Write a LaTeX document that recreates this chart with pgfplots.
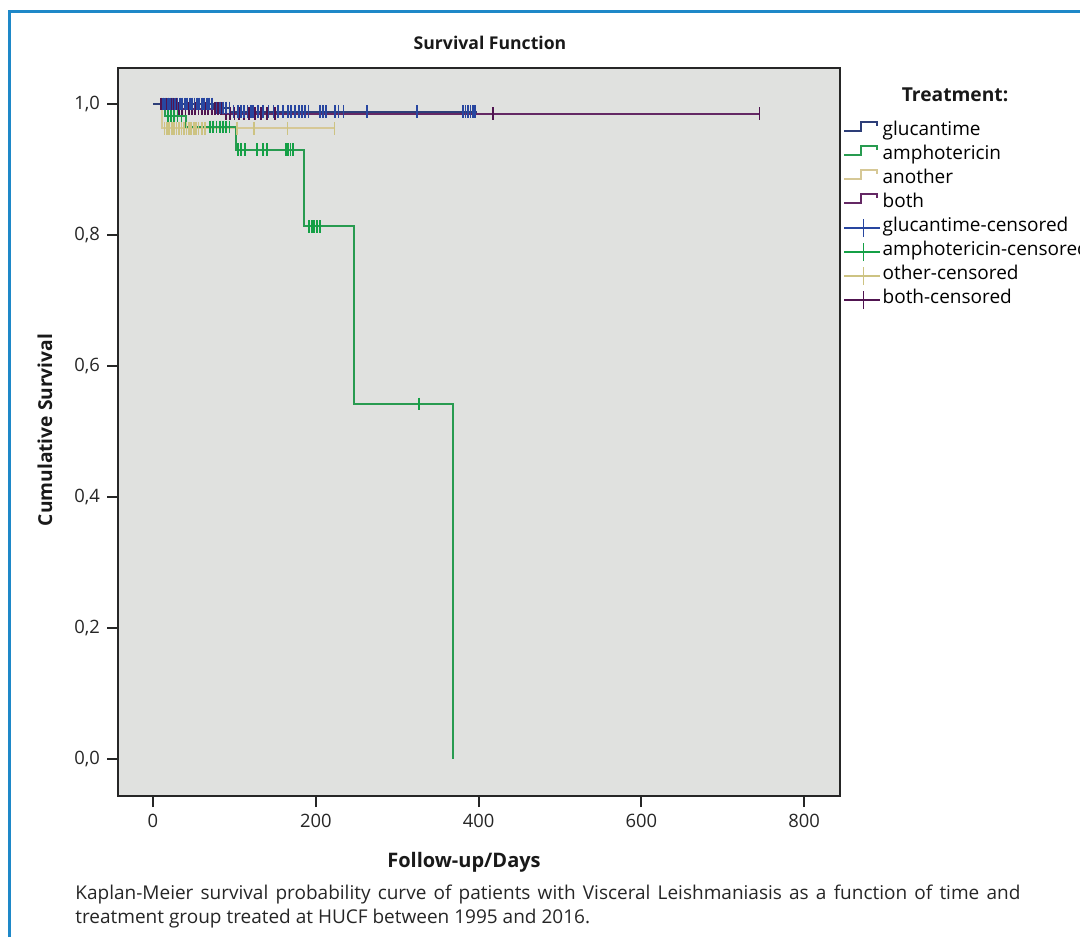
\documentclass[border=0pt]{standalone}
\usepackage{fontspec}
\setmainfont{Open Sans}
\usepackage{pgfplots}
\pgfplotsset{compat=1.18}
\definecolor{bggray}{RGB}{224,225,223}
\definecolor{bordercol}{RGB}{30,136,200}
\definecolor{gluc}{RGB}{45,62,120}
\definecolor{glucm}{RGB}{40,70,160}
\definecolor{ampho}{RGB}{40,155,80}
\definecolor{amphom}{RGB}{20,160,70}
\definecolor{other}{RGB}{214,200,150}
\definecolor{otherm}{RGB}{205,195,130}
\definecolor{both}{RGB}{100,40,100}
\definecolor{bothm}{RGB}{80,20,80}
\begin{document}
\begin{tikzpicture}
\useasboundingbox (0,0) rectangle (540pt,468.5pt);
\fill[white] (0,0) rectangle (540pt,468.5pt);
\draw[line width=1.5pt, bordercol] (4.5pt,0pt) -- (4.5pt,462.5pt) -- (540pt,462.5pt);
\begin{axis}[
  at={(59pt,70.5pt)}, anchor=south west,
  scale only axis, width=361pt, height=364pt,
  xmin=-43, xmax=844, ymin=-0.0565, ymax=1.055,
  xtick={0,200,400,600,800},
  ytick={0,0.2,0.4,0.6,0.8,1},
  yticklabels={{0,0},{0,2},{0,4},{0,6},{0,8},{1,0}},
  tick pos=left, tick align=outside,
  major tick length=5.5pt,
  tick style={line width=1pt, black!85},
  axis line style={line width=1pt, black!85},
  axis background/.style={fill=bggray},
  every tick label/.append style={font=\fontsize{9.2}{10}\selectfont, text=black!85},
  /pgf/number format/assume math mode=true,
  legend style={at={(axis description cs:1.0042,0.929)}, anchor=north west,
    draw=none, fill=none, inner sep=0pt,
    font=\fontsize{9.5}{10}\selectfont,
    nodes={inner ysep=0pt, inner xsep=0.75pt, text height=7.5pt, text depth=4.5pt},
    row sep=0pt},
  legend cell align=left,
  steplegend/.style={legend image code/.code={
    \draw[##1] (0pt,0.5pt) -- (8.5pt,0.5pt) -- (8.5pt,5pt) -- (16.5pt,5pt) -- (16.5pt,3pt);}},
  censlegend/.style={legend image code/.code={
    \draw[##1] (0pt,0pt) -- (18pt,0pt); \draw[##1] (9.5pt,-4.5pt) -- (9.5pt,4.5pt);}},
]
% step lines
\addplot[other, line width=1pt, forget plot] coordinates {(5,1)(11,1)(11,0.963)(224,0.963)};
\addplot[ampho, line width=1pt, forget plot] coordinates {(8,1)(15,1)(15,0.982)(40,0.982)(40,0.965)(102,0.965)(102,0.930)(186,0.930)(186,0.813)(247,0.813)(247,0.542)(369,0.542)(369,0)};
\addplot[both, line width=1pt, forget plot] coordinates {(8,1)(30,1)(30,0.993)(85,0.993)(85,0.985)(745,0.985)};
\addplot[gluc, line width=1pt, forget plot] coordinates {(0,1)(75,1)(75,0.994)(95,0.994)(95,0.988)(398,0.988)};
% censored marks
\addplot[only marks, mark=|, mark size=3.2pt, otherm, line width=0.8pt, forget plot] coordinates {
(14,0.963)(17,0.963)(20,0.963)(23,0.963)(26,0.963)(29,0.963)(32,0.963)(35,0.963)(38,0.963)(41,0.963)(44,0.963)(47,0.963)(50,0.963)(53,0.963)(56,0.963)(60,0.963)(64,0.963)(103,0.963)(124,0.963)(165,0.963)(223,0.963)};
\addplot[only marks, mark=|, mark size=3.2pt, amphom, line width=0.9pt, forget plot] coordinates {
(18,0.982)(22,0.982)(26,0.982)(30,0.982)(35,0.982)
(70,0.965)(74,0.965)(78,0.965)(82,0.965)(86,0.965)(90,0.965)(94,0.965)
(104,0.93)(108,0.93)(113,0.93)(128,0.93)(135,0.93)(140,0.93)(163,0.93)(166,0.93)(169,0.93)(172,0.93)
(192,0.813)(195,0.813)(198,0.813)(201,0.813)(205,0.813)
(327,0.542)};
\addplot[only marks, mark=|, mark size=3.2pt, bothm, line width=0.9pt, forget plot] coordinates {
(10,1)(13,1)(16,1)(19,1)(22,1)(25,1)(28,1)
(32,0.993)(36,0.993)(40,0.993)(44,0.993)(48,0.993)(52,0.993)(56,0.993)(60,0.993)(64,0.993)(68,0.993)(72,0.993)(76,0.993)(80,0.993)(84,0.993)
(90,0.985)(95,0.985)(100,0.985)(106,0.985)(112,0.985)(118,0.985)(125,0.985)(133,0.985)(140,0.985)(150,0.985)(418,0.985)(745,0.985)};
\addplot[only marks, mark=|, mark size=3.2pt, glucm, line width=0.9pt, forget plot] coordinates {
(12,1)(15,1)(18,1)(21,1)(24,1)(27,1)(30,1)(33,1)(36,1)(39,1)(42,1)(45,1)(48,1)(51,1)(54,1)(57,1)(60,1)(63,1)(66,1)(69,1)(72,1)
(78,0.994)(82,0.994)(86,0.994)(90,0.994)(94,0.994)
(99,0.988)(104,0.988)(108,0.988)(112,0.988)(116,0.988)(120,0.988)(123,0.988)(129,0.988)(135,0.988)(142,0.988)(148,0.988)(154,0.988)(160,0.988)(166,0.988)(170,0.988)(174,0.988)(179,0.988)(183,0.988)(187,0.988)(191,0.988)(205,0.988)(209,0.988)(213,0.988)(224,0.988)(228,0.988)(234,0.988)(263,0.988)(324,0.988)(381,0.988)(384,0.988)(387,0.988)(390,0.988)(393,0.988)(396,0.988)};
% legend
\addlegendimage{gluc, line width=0.9pt, steplegend}
\addlegendentry{glucantime}
\addlegendimage{ampho, line width=0.9pt, steplegend}
\addlegendentry{amphotericin}
\addlegendimage{other, line width=0.9pt, steplegend}
\addlegendentry{another}
\addlegendimage{both, line width=0.9pt, steplegend}
\addlegendentry{both}
\addlegendimage{glucm, line width=0.8pt, censlegend}
\addlegendentry{glucantime-censored}
\addlegendimage{amphom, line width=0.8pt, censlegend}
\addlegendentry{amphotericin-censored}
\addlegendimage{otherm, line width=0.8pt, censlegend}
\addlegendentry{other-censored}
\addlegendimage{bothm, line width=0.8pt, censlegend}
\addlegendentry{both-censored}
\end{axis}
\node[font=\bfseries\fontsize{8.8}{10}\selectfont, text=black!90] at (245pt,447pt) {Survival Function};
\node[font=\bfseries\fontsize{9.6}{10}\selectfont, text=black!90] at (477.5pt,421pt) {Treatment:};
\node[font=\bfseries\fontsize{9.6}{10}\selectfont, text=black!90, rotate=90] at (22.5pt,253.5pt) {Cumulative Survival};
\node[font=\bfseries\fontsize{10}{10}\selectfont, text=black!90] at (232pt,37.5pt) {Follow-up/Days};
\node[anchor=base west, inner sep=0pt, text=black!85] at (37.5pt,19pt) {\parbox[t]{472.5pt}{\fontsize{9.5}{12}\selectfont Kaplan-Meier survival probability curve of patients with Visceral Leishmaniasis as a function of time and\linebreak treatment group treated at HUCF between 1995 and 2016.}};
\end{tikzpicture}
\end{document}
